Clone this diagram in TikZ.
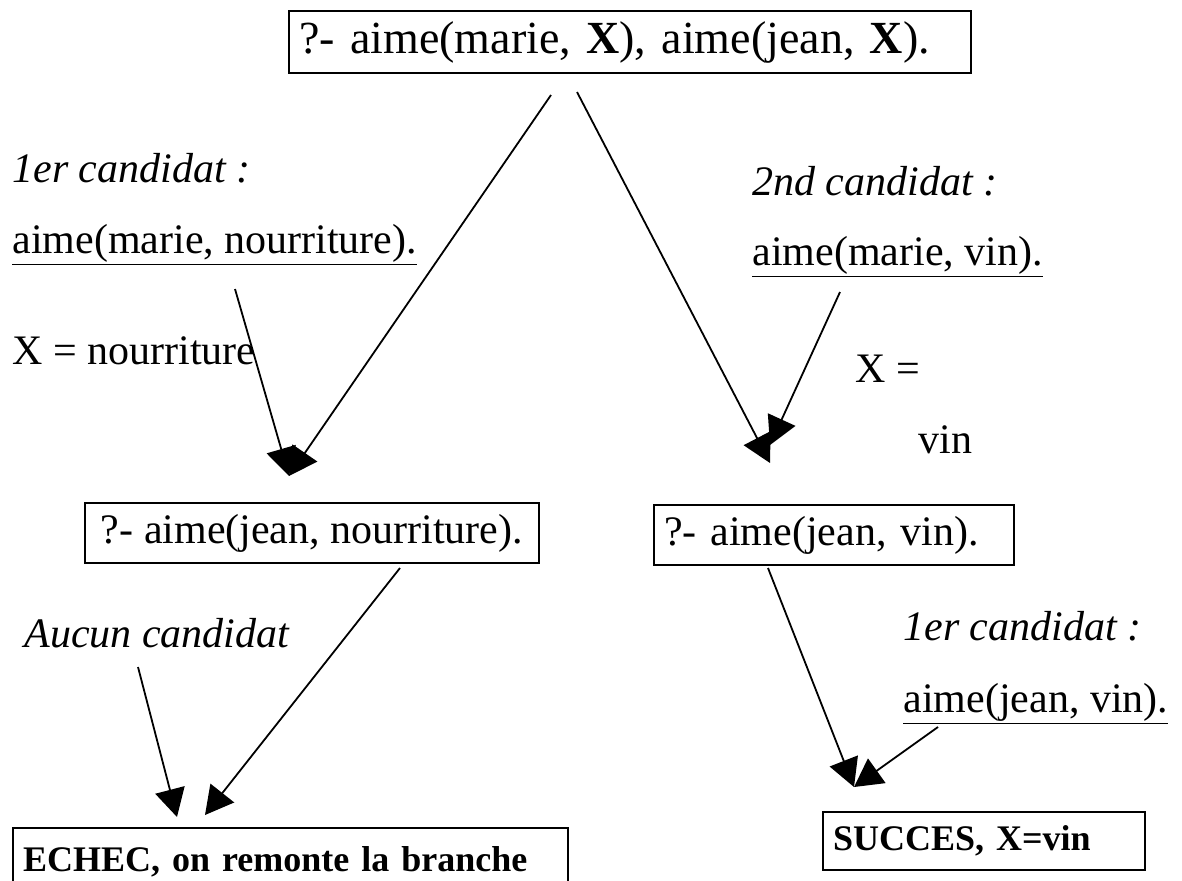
\documentclass[tikz,border=0pt]{standalone}
\usepackage{fontspec}
\setmainfont{Liberation Serif}
\usetikzlibrary{arrows.meta}

\tikzset{
  goal/.style={draw,line width=1pt,inner xsep=5pt,minimum height=30pt,
    font=\fontsize{21}{25}\selectfont},
  result/.style={goal,align=left,font=\fontsize{18}{22}\selectfont\bfseries},
  note/.style={anchor=base west,inner sep=0pt,font=\fontsize{21}{25}\selectfont},
  cand/.style={note,font=\fontsize{21}{25}\selectfont\itshape},
  arr/.style={line width=0.9pt,-{Triangle[length=14pt,width=15pt]}},
}
\newcommand{\clause}[1]{\underline{#1}}

\begin{document}
\begin{tikzpicture}[x=0.5pt,y=-0.5pt]
    \useasboundingbox (0,0) rectangle (1182,880);

    % the query and the two branches
    \node[goal,anchor=north west,align=left,text width=331pt,minimum height=31pt,
          font=\fontsize{23}{27}\selectfont] (query) at (288,10)
        {?- aime(marie, \textbf{X}), aime(jean, \textbf{X}).};
    \node[goal,anchor=north east,inner xsep=8pt] (left) at (540,502)
        {?- aime(jean, nourriture).};
    \node[goal,anchor=north west,align=left,text width=170pt] (right) at (653,504)
        {?- aime(jean, vin).};
    \node[result,anchor=north west,text width=267.5pt,minimum height=34pt] (echec) at (12,827)
        {ECHEC, on remonte la branche};
    \node[result,anchor=north west,text width=151pt,minimum height=29pt] (succes) at (822,811)
        {SUCCES, X=vin};

    % labels
    \node[cand] (c1) at (12,182) {1er candidat :};
    \node[note] (m1) at (12,253) {\clause{aime(marie, nourriture).}};
    \node[note] (u1) at (12,364) {X = nourriture};
    \node[cand] (c2) at (752,195) {2nd candidat :};
    \node[note] (m2) at (752,265) {\clause{aime(marie, vin).}};
    \node[note] (u2a) at (855,382) {X =};
    \node[note] (u2b) at (918,453) {vin};
    \node[cand] (c3) at (24,647) {Aucun candidat};
    \node[cand] (c4) at (903,640) {1er candidat :};
    \node[note] (m4) at (903,712) {\clause{aime(jean, vin).}};

    % ends of the arrows
    \coordinate (qL) at (551,95);
    \coordinate (qR) at (577,92);
    \coordinate (m1s) at (235,289);
    \coordinate (m2s) at (840,292);
    \coordinate (c3s) at (138,667);
    \coordinate (m4s) at (938,727);
    \coordinate (ls) at (400,568);
    \coordinate (rs) at (768,568);
    \coordinate (tipL) at (289,476);
    \coordinate (tipR) at (770,463);
    \coordinate (tipR2) at (770,445);
    \coordinate (tipE1) at (177,817);
    \coordinate (tipE2) at (205,815);
    \coordinate (tipS) at (854,787);

    \draw[arr] (qL) -- (tipL);
    \draw[arr] (m1s) -- (tipL);
    \draw[arr] (qR) -- (tipR);
    \draw[arr] (m2s) -- (tipR2);
    \draw[arr] (c3s) -- (tipE1);
    \draw[arr] (ls) -- (tipE2);
    \draw[arr] (rs) -- (tipS);
    \draw[arr] (m4s) -- (tipS);
\end{tikzpicture}
\end{document}
